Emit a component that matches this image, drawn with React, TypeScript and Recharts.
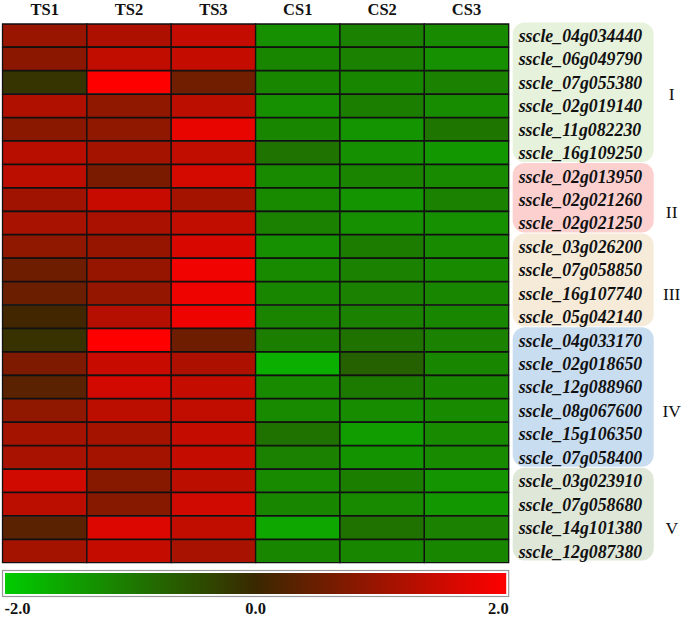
import React from 'react';
import { BarChart, Bar, XAxis, YAxis, Cell } from 'recharts';

const genes = [
  'sscle_04g034440', 'sscle_06g049790', 'sscle_07g055380', 'sscle_02g019140',
  'sscle_11g082230', 'sscle_16g109250', 'sscle_02g013950', 'sscle_02g021260',
  'sscle_02g021250', 'sscle_03g026200', 'sscle_07g058850', 'sscle_16g107740',
  'sscle_05g042140', 'sscle_04g033170', 'sscle_02g018650', 'sscle_12g088960',
  'sscle_08g067600', 'sscle_15g106350', 'sscle_07g058400', 'sscle_03g023910',
  'sscle_07g058680', 'sscle_14g101380', 'sscle_12g087380',
];

const samples = ['TS1', 'TS2', 'TS3', 'CS1', 'CS2', 'CS3'];

const TS1 = [0.97, 0.83, -0.15, 1.2, 0.81, 1.28, 1.32, 1.04, 1.12, 0.87, 0.53, 0.51, 0.08, -0.12, 0.69, 0.32, 0.87, 1.08, 1.12, 1.52, 1.32, 0.32, 1.08];
const TS2 = [1.18, 1.36, 2.0, 0.87, 0.87, 1.08, 0.65, 1.44, 1.14, 0.93, 0.93, 0.91, 1.24, 2.0, 1.44, 1.54, 1.32, 1.08, 1.08, 0.77, 0.77, 1.64, 1.4];
const TS3 = [1.4, 1.4, 0.55, 1.32, 1.77, 1.36, 1.56, 1.08, 1.36, 1.6, 1.85, 1.83, 1.83, 0.53, 1.18, 1.4, 1.36, 1.4, 1.4, 1.32, 1.52, 1.36, 1.12];
const CS1 = [-1.25, -1.15, -1.15, -1.25, -1.15, -0.92, -1.2, -1.2, -1.08, -1.25, -1.2, -1.15, -1.12, -1.05, -1.65, -1.2, -1.2, -0.9, -1.1, -1.2, -1.15, -1.55, -1.15];
const CS2 = [-1.1, -1.1, -1.15, -1.05, -1.32, -1.27, -1.12, -1.32, -1.25, -1.02, -1.1, -1.1, -1.1, -0.9, -0.7, -1.0, -1.22, -1.42, -1.3, -1.05, -1.2, -0.9, -1.15];
const CS3 = [-1.2, -1.25, -1.08, -1.22, -0.95, -1.35, -1.2, -1.1, -1.25, -1.2, -1.2, -1.15, -1.15, -1.1, -1.15, -1.15, -1.2, -1.2, -1.2, -1.32, -1.35, -1.1, -1.15];

const seriesValues: Record<string, number[]> = { TS1, TS2, TS3, CS1, CS2, CS3 };

const groupNames = ['I', 'II', 'III', 'IV', 'V'];
const groupStarts = [0, 6, 9, 13, 19];
const groupEnds = [6, 9, 13, 19, 23];
const groupLabelRows = [2.5, 7.5, 11, 16, 21];
const groupFills = ['#e7f2dc', '#fdd0d0', '#f6ebd9', '#c9ddf1', '#dfe7d9'];

const scaleTicks = ['-2.0', '0.0', '2.0'];

const W = 685;
const H = 619;
const M_TOP = 0;
const X_AXIS_H = 24;
const M_BOTTOM = 56;
const M_LEFT = 2.5;
const Y_AXIS_W = 176.3;
const ROW_H = (H - M_TOP - X_AXIS_H - M_BOTTOM) / genes.length;

const LOW = [0, 204, 0];
const MID = [58, 40, 0];
const HIGH = [255, 0, 0];

function colorFor(v: number) {
  const c = Math.max(-2, Math.min(2, v)) / 2;
  const target = c < 0 ? LOW : HIGH;
  const f = Math.abs(c);
  const rgb = MID.map((m, i) => Math.round(m + (target[i] - m) * f));
  return `rgb(${rgb[0]},${rgb[1]},${rgb[2]})`;
}

const data = genes.map((g, i) => {
  const row: Record<string, any> = { gene: g, index: i };
  samples.forEach((s) => {
    row[s] = seriesValues[s][i];
    row[`u_${s}`] = 1;
  });
  return row;
});

const SERIF = '"Liberation Serif", "Times New Roman", serif';

const TopTick = (props: any) => {
  const { x, payload, index } = props;
  return (
    <text x={x} y={15} textAnchor="middle" fontFamily={SERIF} fontWeight="bold" fontSize={16.5} fill="#111">
      {samples[index] ?? payload.value}
    </text>
  );
};

const GeneTick = (props: any) => {
  const { x, y, payload, index } = props;
  const gIdx = groupStarts.indexOf(index);
  const textX = x + 2;
  let bg = null;
  if (gIdx >= 0) {
    const top = y - ROW_H / 2 - 1.5;
    const h = (groupEnds[gIdx] - groupStarts[gIdx]) * ROW_H - 1;
    const labelY = y - ROW_H / 2 + (groupLabelRows[gIdx] - groupStarts[gIdx] + 0.5) * ROW_H;
    bg = (
      <g>
        <rect x={x - 4} y={top} width={141} height={h} rx={12} ry={12} fill={groupFills[gIdx]} />
        <text x={x + 155} y={labelY} dy="0.35em" textAnchor="middle" fontFamily={SERIF} fontSize={17.5} fill="#111">
          {groupNames[gIdx]}
        </text>
      </g>
    );
  }
  return (
    <g>
      {bg}
      <text x={textX} y={y} dy="0.35em" textAnchor="start" fontFamily={SERIF} fontWeight="bold" fontStyle="italic" fontSize={17.8} fill="#111">
        {payload.value}
      </text>
    </g>
  );
};

const ColorBar = () => {
  const x0 = M_LEFT;
  const x1 = W - Y_AXIS_W;
  const y0 = 570.5;
  const h = 26;
  return (
    <svg width={W} height={H} style={{ position: 'absolute', left: 0, top: 0, pointerEvents: 'none' }}>
      <defs>
        <linearGradient id="cbar" x1="0" x2="1" y1="0" y2="0">
          <stop offset="0%" stopColor={colorFor(-2)} />
          <stop offset="50%" stopColor={colorFor(0)} />
          <stop offset="100%" stopColor={colorFor(2)} />
        </linearGradient>
      </defs>
      <rect x={x0} y={y0} width={x1 - x0} height={h} fill="#fff" stroke="#999" strokeWidth={1.2} />
      <rect x={x0 + 2.5} y={y0 + 2.5} width={x1 - x0 - 5} height={h - 5} fill="url(#cbar)" />
      {scaleTicks.map((t, i) => (
        <text
          key={t}
          x={i === 0 ? x0 + 2 : i === 1 ? (x0 + x1) / 2 : x1}
          y={614}
          textAnchor={i === 0 ? 'start' : i === 1 ? 'middle' : 'end'}
          fontFamily={SERIF}
          fontWeight="bold"
          fontSize={16.5}
          fill="#111"
        >
          {t}
        </text>
      ))}
    </svg>
  );
};

export default function App() {
  return (
    <div style={{ position: 'absolute', left: 0, top: 0, width: W, height: H, background: '#fff' }}>
      <BarChart
        width={W}
        height={H}
        data={data}
        layout="vertical"
        barCategoryGap={0}
        barGap={0}
        margin={{ top: M_TOP, right: 0, bottom: M_BOTTOM, left: M_LEFT }}
      >
        <XAxis
          type="number"
          domain={[0, 6]}
          orientation="top"
          ticks={samples.map((_, i) => i + 0.5)}
          axisLine={false}
          tickLine={false}
          height={X_AXIS_H}
          tick={<TopTick />}
          interval={0}
        />
        <YAxis
          type="category"
          dataKey="gene"
          orientation="right"
          width={Y_AXIS_W}
          axisLine={false}
          tickLine={false}
          tick={<GeneTick />}
          interval={0}
        />
        {samples.map((s) => (
          <Bar key={s} dataKey={`u_${s}`} stackId="hm" isAnimationActive={false}>
            {data.map((row, i) => (
              <Cell key={i} fill={colorFor(row[s])} stroke="#111" strokeWidth={1.3} />
            ))}
          </Bar>
        ))}
      </BarChart>
      <ColorBar />
    </div>
  );
}
